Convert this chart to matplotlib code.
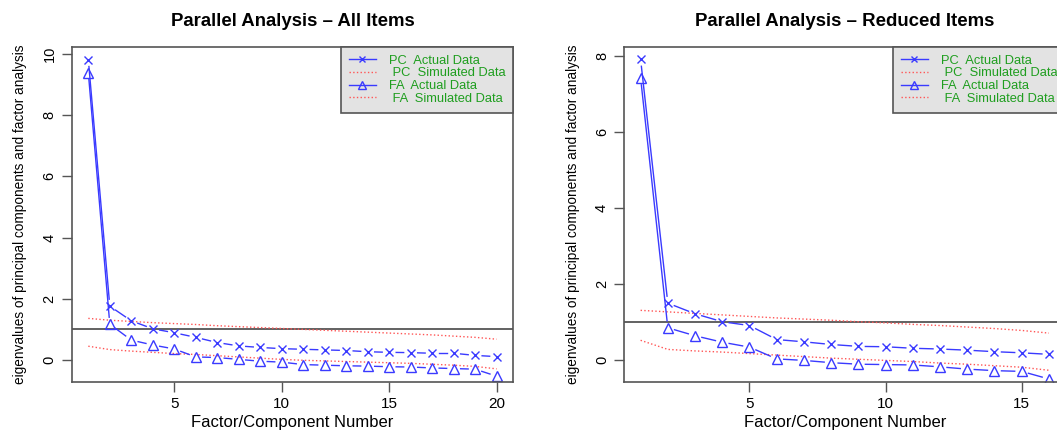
import numpy as np
import matplotlib
matplotlib.use("Agg")
import matplotlib.pyplot as plt

plt.rcParams['font.family'] = ['Liberation Sans', 'DejaVu Sans']

# eigenvalues
pc_all = [9.82, 1.76, 1.28, 1.02, 0.89, 0.74, 0.57, 0.46, 0.41, 0.37,
          0.35, 0.33, 0.31, 0.27, 0.25, 0.24, 0.22, 0.22, 0.15, 0.11]
fa_all = [9.39, 1.17, 0.65, 0.49, 0.36, 0.10, 0.08, 0.02, -0.04, -0.07,
          -0.15, -0.17, -0.19, -0.20, -0.22, -0.23, -0.26, -0.28, -0.30, -0.53]
pc_sim_all = [1.36, 1.30, 1.26, 1.22, 1.19, 1.16, 1.12, 1.09, 1.06, 1.03,
              1.00, 0.97, 0.94, 0.91, 0.88, 0.85, 0.82, 0.78, 0.74, 0.68]
fa_sim_all = [0.45, 0.34, 0.29, 0.25, 0.21, 0.18, 0.14, 0.10, 0.06, 0.02,
              -0.01, -0.03, -0.05, -0.07, -0.09, -0.11, -0.14, -0.17, -0.21, -0.29]

pc_red = [7.92, 1.49, 1.21, 1.00, 0.90, 0.53, 0.47, 0.40, 0.35, 0.34,
          0.30, 0.28, 0.25, 0.21, 0.18, 0.14]
fa_red = [7.43, 0.84, 0.63, 0.46, 0.33, 0.02, -0.02, -0.08, -0.12, -0.13,
          -0.14, -0.19, -0.25, -0.29, -0.31, -0.51]
pc_sim_red = [1.30, 1.26, 1.22, 1.18, 1.14, 1.10, 1.07, 1.04, 1.00, 0.97,
              0.93, 0.90, 0.86, 0.82, 0.77, 0.70]
fa_sim_red = [0.51, 0.27, 0.23, 0.20, 0.16, 0.12, 0.08, 0.04, 0.01, -0.02,
              -0.05, -0.09, -0.12, -0.16, -0.20, -0.28]

titles = ["Parallel Analysis \u2013 All Items", "Parallel Analysis \u2013 Reduced Items"]
legend_labels = ["PC  Actual Data", " PC  Simulated Data", "FA  Actual Data", " FA  Simulated Data"]

BLUE = '#3a3aff'
RED = '#ff5555'
GREEN = '#1f9e1f'
GRAY = '#555555'


def b_line(ax, x, y, gap=7, **kw):
    """ R style type='b': segments between points, cut short around each point """
    pts = ax.transData.transform(np.column_stack([x, y]))
    inv = ax.transData.inverted()
    for p0, p1 in zip(pts[:-1], pts[1:]):
        d = p1 - p0
        L = np.hypot(*d)
        if L <= 2 * gap:
            continue
        u = d / L
        seg = inv.transform([p0 + u * gap, p1 - u * gap])
        ax.plot(seg[:, 0], seg[:, 1], color=BLUE, lw=1.0, **kw)


def panel(ax, title, pc, fa, pc_sim, fa_sim, ylim, yticks):
    x = np.arange(1, len(pc) + 1)
    n = len(pc)
    pad = 0.04 * (n - 1)
    ax.set_xlim(1 - pad, n + pad)
    ax.set_ylim(*ylim)

    ax.axhline(1, color=GRAY, lw=1.3, zorder=1)
    ax.plot(x, pc_sim, ls=':', color=RED, lw=1.0)
    ax.plot(x, fa_sim, ls=':', color=RED, lw=1.0)
    b_line(ax, x, pc)
    b_line(ax, x, fa)
    ax.plot(x, pc, ls='none', marker='x', ms=5.5, mew=1.0, color=BLUE)
    ax.plot(x, fa, ls='none', marker='^', ms=6.5, mew=1.0, mfc='none', mec=BLUE)

    # legend proxies
    h = [plt.Line2D([], [], color=BLUE, lw=1.0, marker='x', ms=5, mew=1.0),
         plt.Line2D([], [], color=RED, lw=1.0, ls=':'),
         plt.Line2D([], [], color=BLUE, lw=1.0, marker='^', ms=5.5, mfc='none', mec=BLUE),
         plt.Line2D([], [], color=RED, lw=1.0, ls=':')]
    leg = ax.legend(h, legend_labels, loc='upper right', borderaxespad=0,
                    fancybox=False, framealpha=1, facecolor='#e3e3e3',
                    edgecolor=GRAY, fontsize=9.3, labelcolor=GREEN,
                    handlelength=2.1, handletextpad=1.0, labelspacing=0.05,
                    borderpad=0.6)
    leg.get_frame().set_linewidth(1.2)

    ax.set_xticks([t for t in (5, 10, 15, 20) if t <= n])
    ax.set_yticks(yticks)
    ax.tick_params(axis='both', length=7, width=1.0, color=GRAY, labelsize=11)
    ax.tick_params(axis='x', pad=4)
    ax.tick_params(axis='y', pad=4, labelsize=10.5)
    plt.setp(ax.get_yticklabels(), rotation=90, va='center')
    for s in ax.spines.values():
        s.set_color(GRAY)
        s.set_linewidth(1.2)

    ax.set_title(title, fontsize=13.4, fontweight='bold', pad=15)
    ax.set_xlabel("Factor/Component Number", fontsize=12, labelpad=3)
    ax.set_ylabel("eigenvalues of principal components and factor analysis",
                  fontsize=9.8, labelpad=11)


fig = plt.figure(figsize=(10.57, 4.32), dpi=100)
ax1 = fig.add_axes([0.0681, 0.1157, 0.4172, 0.7755])
ax2 = fig.add_axes([0.5906, 0.1157, 0.4172, 0.7755])

panel(ax1, titles[0], pc_all, fa_all, pc_sim_all, fa_sim_all, (-0.72, 10.23), [0, 2, 4, 6, 8, 10])
panel(ax2, titles[1], pc_red, fa_red, pc_sim_red, fa_sim_red, (-0.59, 8.245), [0, 2, 4, 6, 8])

fig.savefig("out.png", dpi=100)
